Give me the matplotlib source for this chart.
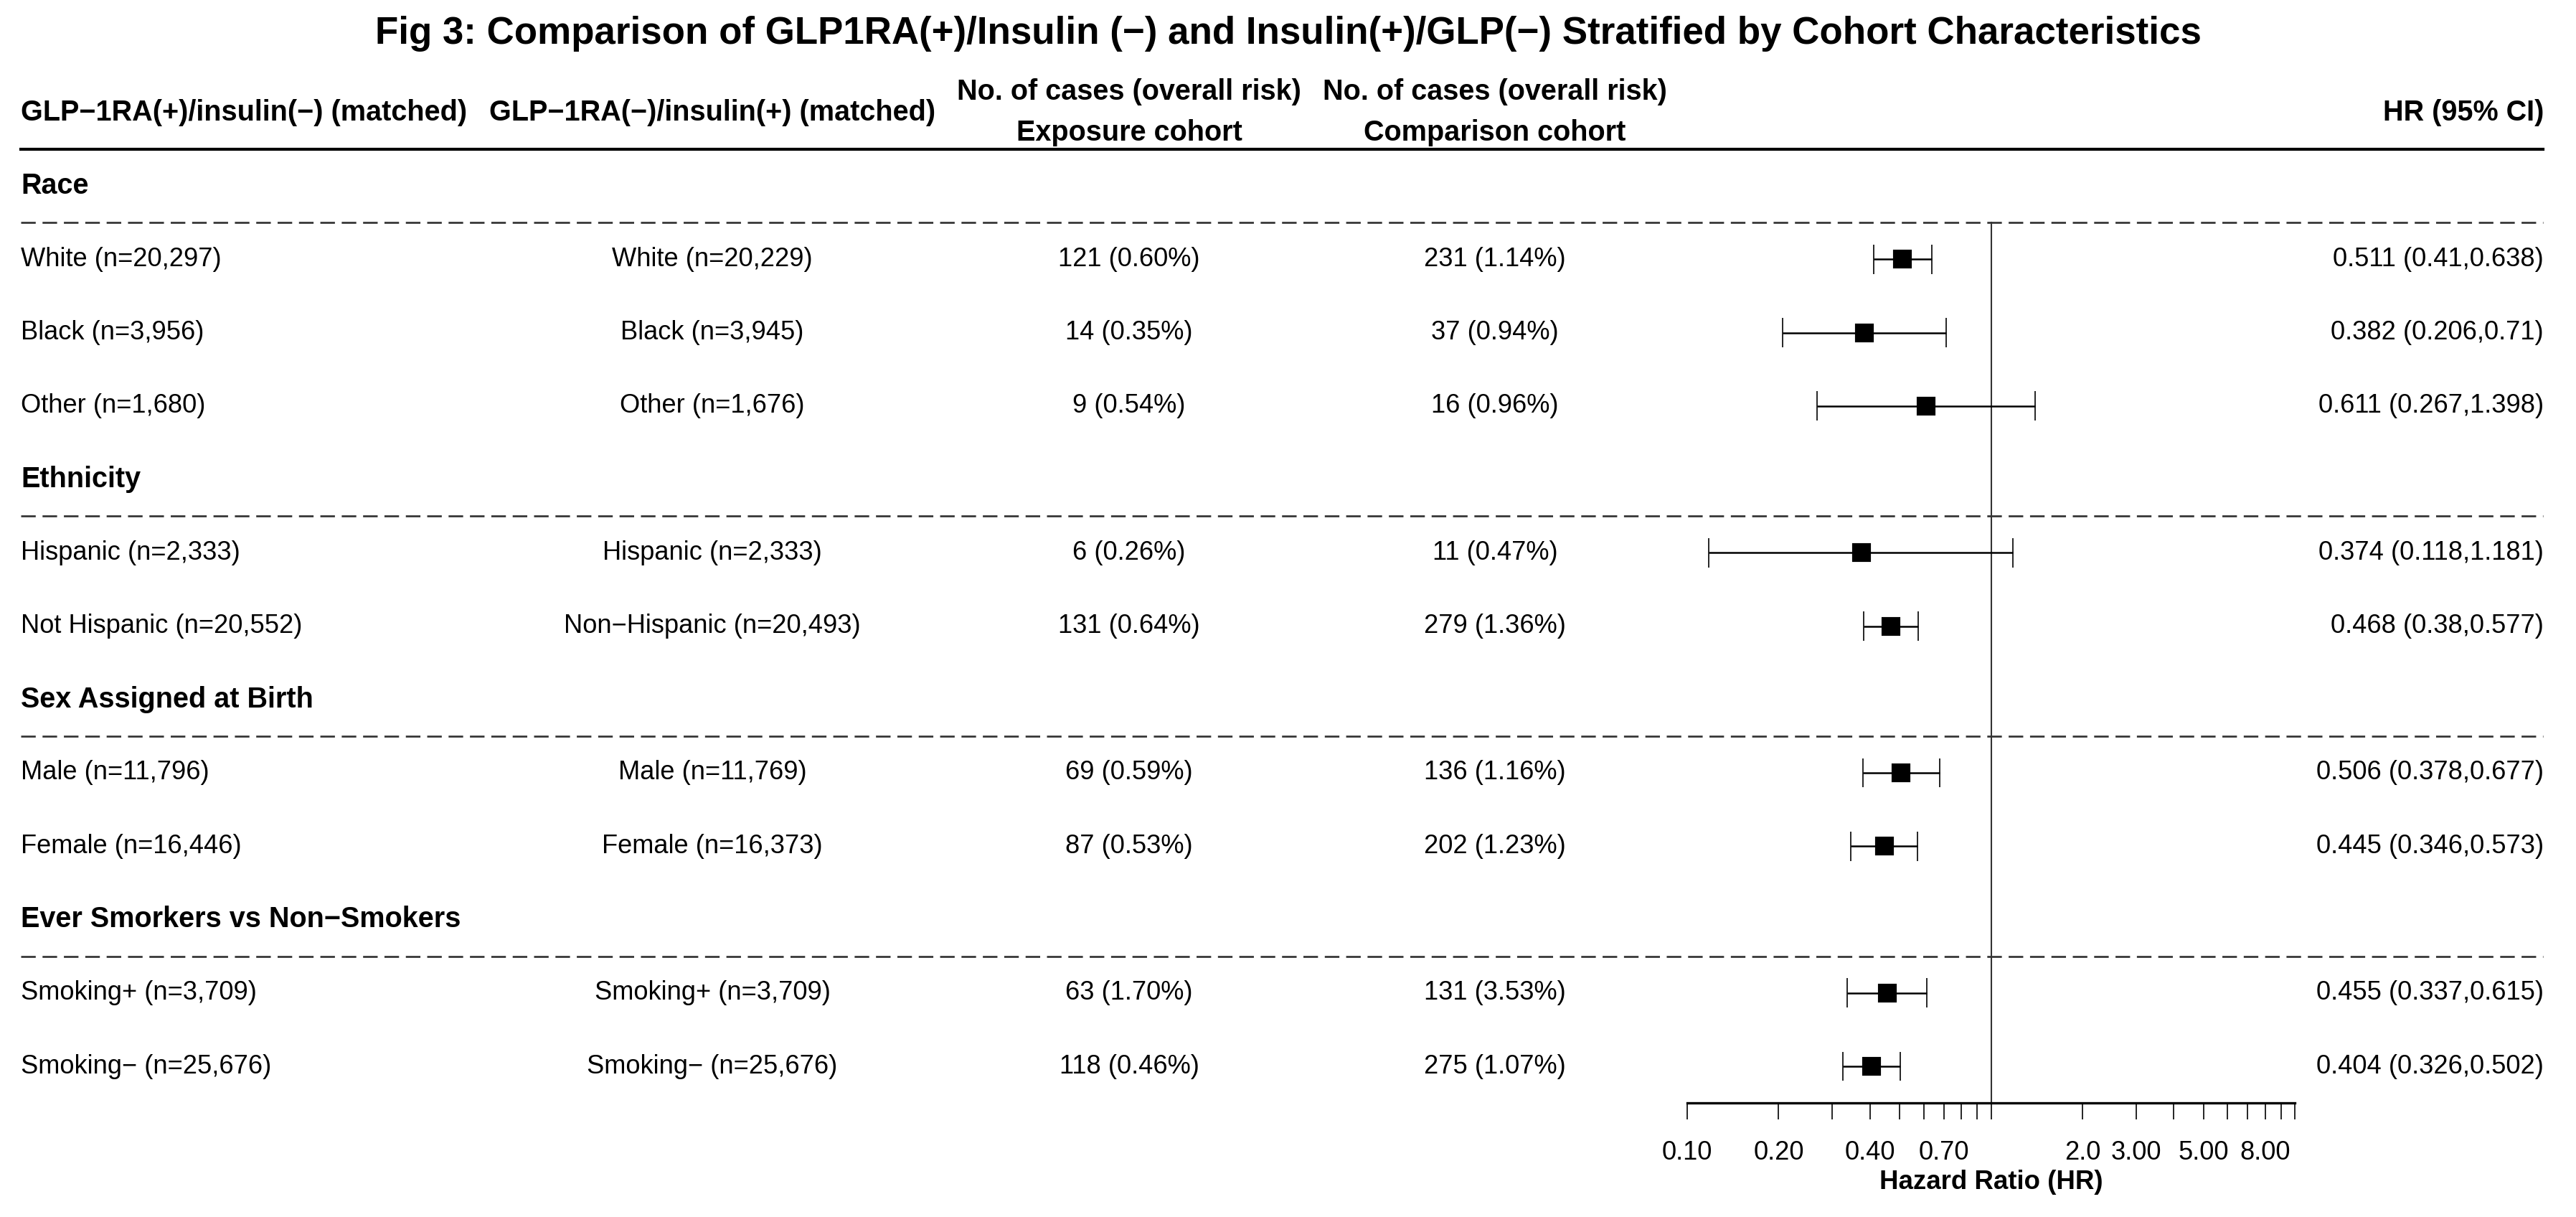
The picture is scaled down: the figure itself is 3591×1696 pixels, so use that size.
import numpy as np
import matplotlib
matplotlib.use('Agg')
import matplotlib.pyplot as plt
from matplotlib.transforms import blended_transform_factory

plt.rcParams['font.family'] = ['Liberation Sans', 'DejaVu Sans']

# ---- data ----
group_names = ['Race', 'Ethnicity', 'Sex Assigned at Birth', 'Ever Smorkers vs Non\u2212Smokers']
group_of_row = [0, 0, 0, 1, 1, 2, 2, 3, 3]

labels_exposure = ['White (n=20,297)', 'Black (n=3,956)', 'Other (n=1,680)',
                   'Hispanic (n=2,333)', 'Not Hispanic (n=20,552)',
                   'Male (n=11,796)', 'Female (n=16,446)',
                   'Smoking+ (n=3,709)', 'Smoking\u2212 (n=25,676)']
labels_comparison = ['White (n=20,229)', 'Black (n=3,945)', 'Other (n=1,676)',
                     'Hispanic (n=2,333)', 'Non\u2212Hispanic (n=20,493)',
                     'Male (n=11,769)', 'Female (n=16,373)',
                     'Smoking+ (n=3,709)', 'Smoking\u2212 (n=25,676)']
exp_cases = [121, 14, 9, 6, 131, 69, 87, 63, 118]
exp_pct = [0.60, 0.35, 0.54, 0.26, 0.64, 0.59, 0.53, 1.70, 0.46]
cmp_cases = [231, 37, 16, 11, 279, 136, 202, 131, 275]
cmp_pct = [1.14, 0.94, 0.96, 0.47, 1.36, 1.16, 1.23, 3.53, 1.07]
hr = [0.511, 0.382, 0.611, 0.374, 0.468, 0.506, 0.445, 0.455, 0.404]
hr_lo = [0.41, 0.206, 0.267, 0.118, 0.38, 0.378, 0.346, 0.337, 0.326]
hr_hi = [0.638, 0.71, 1.398, 1.181, 0.577, 0.677, 0.573, 0.615, 0.502]

tick_vals = [0.1, 0.2, 0.3, 0.4, 0.5, 0.6, 0.7, 0.8, 0.9, 1, 2, 3, 4, 5, 6, 7, 8, 9, 10]
tick_text = {0.1: '0.10', 0.2: '0.20', 0.4: '0.40', 0.7: '0.70',
             2: '2.0', 3: '3.00', 5: '5.00', 8: '8.00'}

col_headers = ['GLP\u22121RA(+)/insulin(\u2212) (matched)', 'GLP\u22121RA(\u2212)/insulin(+) (matched)']
title = ('Fig 3: Comparison of GLP1RA(+)/Insulin (\u2212) and Insulin(+)/GLP(\u2212) '
         'Stratified by Cohort Characteristics')

# ---- layout (pixels of the 3591x1696 output) ----
W, H = 3591, 1696
fig = plt.figure(figsize=(W / 300, H / 300), dpi=300)
row0_px, row_h = 259, 102.25
y_top, y_bot = -2.5, 12.5
ax_left, ax_right = 2352, 3199
ax_top_px = row0_px + y_top * row_h
ax_bot_px = row0_px + y_bot * row_h
ax = fig.add_axes([ax_left / W, 1 - ax_bot_px / H, (ax_right - ax_left) / W, (ax_bot_px - ax_top_px) / H])
ax.set_xscale('log')
ax.set_xlim(0.1, 10)
ax.set_ylim(y_bot, y_top)
for s in ['top', 'left', 'right']:
    ax.spines[s].set_visible(False)
ax.spines['bottom'].set_linewidth(0.8)
ax.set_yticks([])
ax.set_xticks(tick_vals)
ax.set_xticklabels([tick_text.get(v, '') for v in tick_vals])
ax.xaxis.set_minor_locator(matplotlib.ticker.NullLocator())
ax.tick_params(axis='x', direction='out', length=5.5, width=0.4, pad=7, labelsize=8.7)

tr = blended_transform_factory(fig.transFigure, ax.transData)
xl, xr = 29 / W, 3545 / W
x_col2, x_col3, x_col4, x_hr = 993 / W, 1574 / W, 2084 / W, 3546 / W
body = 8.7
head = 9.5

# title and headers
fig.text(0.5, 1 - 47 / H, title, ha='center', va='center', fontsize=12.7, fontweight='bold')
ax.text(xl, -1.0, col_headers[0], transform=tr, ha='left', va='center', fontsize=head, fontweight='bold')
ax.text(x_col2, -1.0, col_headers[1], transform=tr, ha='center', va='center', fontsize=head, fontweight='bold')
for xc, sub in [(x_col3, 'Exposure cohort'), (x_col4, 'Comparison cohort')]:
    ax.text(xc, -1.28, 'No. of cases (overall risk)', transform=tr, ha='center', va='center',
            fontsize=head, fontweight='bold')
    ax.text(xc, -0.72, sub, transform=tr, ha='center', va='center', fontsize=head, fontweight='bold')
ax.text(x_hr, -1.0, 'HR (95% CI)', transform=tr, ha='right', va='center', fontsize=head, fontweight='bold')
ax.plot([xl, xr], [-0.5, -0.5], transform=tr, color='black', lw=1.0, clip_on=False)

# rows
y = 0
prev_g = -1
row_y = []
for i in range(len(hr)):
    g = group_of_row[i]
    if g != prev_g:
        ax.text(xl, y, group_names[g], transform=tr, ha='left', va='center', fontsize=head, fontweight='bold')
        ax.plot([xl, xr], [y + 0.5, y + 0.5], transform=tr, color='#333333', lw=0.65,
                dashes=(7.5, 3.5), clip_on=False)
        y += 1
        prev_g = g
    row_y.append(y)
    ax.text(xl, y, labels_exposure[i], transform=tr, ha='left', va='center', fontsize=body)
    ax.text(x_col2, y, labels_comparison[i], transform=tr, ha='center', va='center', fontsize=body)
    ax.text(x_col3, y, '%d (%.2f%%)' % (exp_cases[i], exp_pct[i]), transform=tr,
            ha='center', va='center', fontsize=body)
    ax.text(x_col4, y, '%d (%.2f%%)' % (cmp_cases[i], cmp_pct[i]), transform=tr,
            ha='center', va='center', fontsize=body)
    ax.text(x_hr, y, '%g (%g,%g)' % (hr[i], hr_lo[i], hr_hi[i]), transform=tr,
            ha='right', va='center', fontsize=body)
    y += 1

row_y = np.array(row_y)
ax.axvline(1, ymin=0, ymax=(y_bot - 0.5) / (y_bot - y_top), color='#333333', lw=0.5)
ax.hlines(row_y, hr_lo, hr_hi, color='black', lw=0.6)
ax.vlines(hr_lo, row_y - 0.2, row_y + 0.2, color='black', lw=0.4)
ax.vlines(hr_hi, row_y - 0.2, row_y + 0.2, color='black', lw=0.4)
ax.plot(hr, row_y, 's', color='black', markersize=5.3, linestyle='none')

ax.text(1, 13.58, 'Hazard Ratio (HR)', ha='center', va='center', fontsize=8.8, fontweight='bold', clip_on=False)

fig.savefig('out.png', dpi=300, facecolor='white')
